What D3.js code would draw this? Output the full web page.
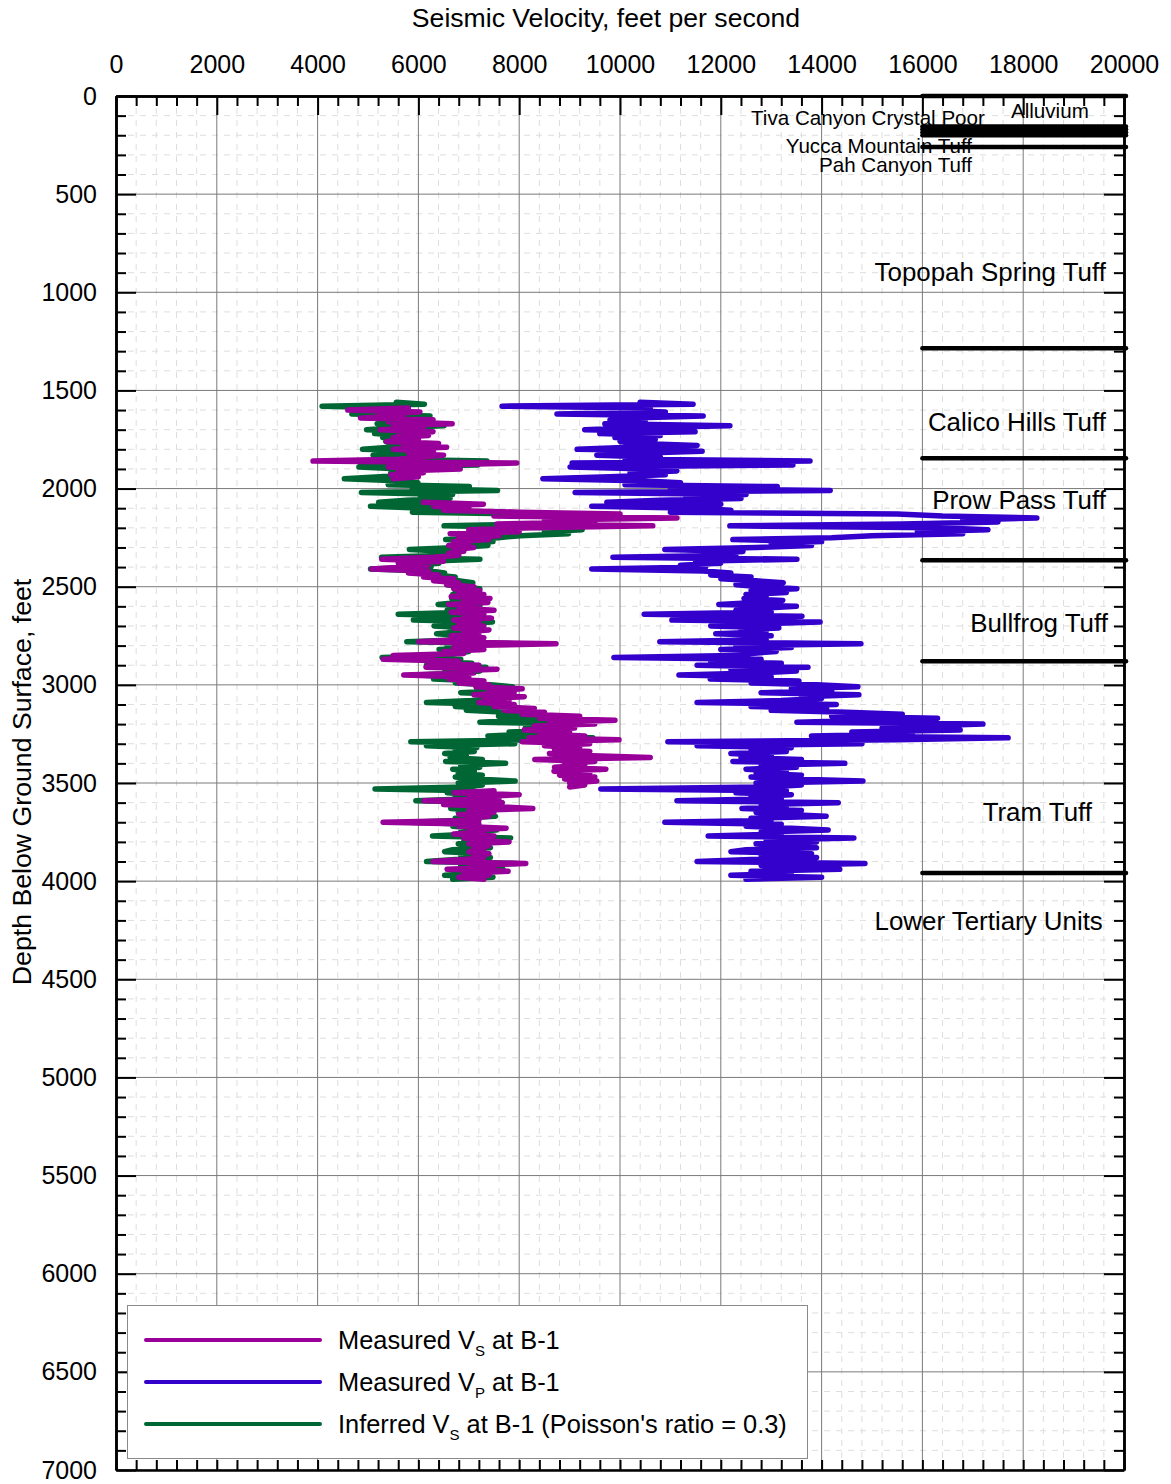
<!DOCTYPE html>
<html><head><meta charset="utf-8">
<script src="https://cdn.jsdelivr.net/npm/d3@7"></script>
<style>
body{margin:0;background:#fff}
svg{display:block}
text{font-family:"Liberation Sans",Arial,Helvetica,sans-serif;fill:#000}
</style>
</head><body>
<svg id="chart" width="1171" height="1484"></svg>
<script>
// ---------- DATA ----------
const depthFt = [
1560,1570,1580,1590,1600,1610,1620,1630,1640,1650,
1660,1670,1680,1690,1700,1710,1720,1730,1740,1750,
1760,1770,1780,1790,1800,1810,1820,1830,1840,1850,
1860,1870,1880,1890,1900,1910,1920,1930,1940,1950,
1960,1970,1980,1990,2000,2010,2020,2030,2040,2050,
2060,2070,2080,2090,2100,2110,2120,2130,2140,2150,
2160,2170,2180,2190,2200,2210,2220,2230,2240,2250,
2260,2270,2280,2290,2300,2310,2320,2330,2340,2350,
2360,2370,2380,2390,2400,2410,2420,2430,2440,2450,
2460,2470,2480,2490,2500,2510,2520,2530,2540,2550,
2560,2570,2580,2590,2600,2610,2620,2630,2640,2650,
2660,2670,2680,2690,2700,2710,2720,2730,2740,2750,
2760,2770,2780,2790,2800,2810,2820,2830,2840,2850,
2860,2870,2880,2890,2900,2910,2920,2930,2940,2950,
2960,2970,2980,2990,3000,3010,3020,3030,3040,3050,
3060,3070,3080,3090,3100,3110,3120,3130,3140,3150,
3160,3170,3180,3190,3200,3210,3220,3230,3240,3250,
3260,3270,3280,3290,3300,3310,3320,3330,3340,3350,
3360,3370,3380,3390,3400,3410,3420,3430,3440,3450,
3460,3470,3480,3490,3500,3510,3520,3530,3540,3550,
3560,3570,3580,3590,3600,3610,3620,3630,3640,3650,
3660,3670,3680,3690,3700,3710,3720,3730,3740,3750,
3760,3770,3780,3790,3800,3810,3820,3830,3840,3850,
3860,3870,3880,3890,3900,3910,3920,3930,3940,3950,
3960,3970,3980,3990];

const measuredVp = [
10400,11450,7660,10600,9900,10900,8750,11650,10200,9800,
10500,9700,12180,10300,9300,11490,9600,10800,9900,10700,
10000,10400,11530,10200,9150,11630,10300,9540,10800,10100,
13770,9050,13430,9010,10600,11130,10200,10900,9800,8470,
10400,11200,10100,13120,11000,14170,9110,12500,11300,12400,
10800,9740,12000,9440,11500,12200,11000,15500,16400,18270,
16800,17500,15600,12180,16300,17300,15900,16800,15000,14200,
12240,14000,13000,13800,12700,10890,12440,11800,12300,9860,
13510,11500,12000,11200,11700,9440,11650,12200,11800,12600,
12000,12700,13240,12300,12800,13510,12600,13300,12500,12900,
12460,13230,12700,11960,13500,12800,12300,13000,10480,13610,
12400,11030,13970,12600,11800,13150,12400,12900,11900,13000,
12500,12900,10790,14780,12300,13400,12000,13100,12600,12300,
9880,12800,11800,13200,11530,13730,12200,13500,12700,11170,
13000,11790,13550,12600,13900,14720,13400,14200,12800,14740,
13600,14000,13200,11530,14290,12600,14100,13000,14500,15600,
14200,16300,15000,13510,17200,16000,15200,16750,14600,15800,
13800,17700,15500,10950,14800,11530,13400,12600,13300,12200,
13000,12400,13600,12240,14460,12800,13500,12500,13300,12700,
13600,12600,13400,14820,12700,13600,12900,9620,13300,12300,
13400,12600,13200,11130,14330,12800,13300,12420,13600,12700,
13300,14090,12600,13000,10890,13200,12500,13400,14130,12800,
13200,11750,14640,12900,13900,12700,13300,13900,12500,12200,
13800,12800,13900,12600,11530,14860,12800,13300,14360,12600,
13400,12200,14000,12500];

const measuredVs = [
null,null,null,5800,4600,6030,5200,5700,4850,6290,
5400,6670,5500,6100,5240,6290,5600,6200,5500,6000,
5370,6400,5700,6560,5500,6300,5800,6500,6000,5600,
3910,7950,6300,5400,6830,5600,6100,5450,6000,5500,
null,null,null,null,null,null,null,null,null,null,
null,6100,7290,6300,7000,6500,8000,10000,7500,11130,
8500,9500,7560,10650,8270,7000,8000,6630,7600,6800,
7400,6700,7000,6600,7100,6700,6900,6600,6800,6300,
5270,6500,5600,6200,5700,5070,6200,5800,6400,6100,
6700,6300,6800,6560,7100,6700,7220,6800,7300,6650,
7420,6900,7380,6600,7200,6800,7500,6650,7300,6900,
7450,6700,7200,6800,7300,6700,7400,6900,7200,6650,
7300,6800,6010,8730,7000,6700,7300,6500,6900,5500,
6300,5300,6800,6200,7200,6150,7560,6600,7100,5710,
7000,6600,7300,6800,7400,7140,8060,7400,7900,7100,
8100,7300,7800,7200,7900,7500,8300,7700,8500,8060,
9200,8400,9900,8600,9500,8300,9100,8100,9000,8400,
9300,8200,9980,8060,9400,8500,9200,8700,9400,8600,
9300,10600,8310,9500,8900,9300,8700,9720,8690,9400,
8800,9500,8900,9540,9000,9300,9000,null,7500,6710,
8000,7000,7600,6110,7660,6500,7500,8270,7000,7500,
6800,7400,7000,7200,5300,7200,6800,7740,7000,7300,
6700,7500,6900,7200,7800,7000,7400,7100,7300,7000,
7400,7100,7300,6900,6290,8130,7000,7500,6570,7780,
6900,7400,6800,7300];

const inferredVs = [
5560,6120,4090,5670,5290,5830,4680,6230,5450,5240,
5610,5180,6510,5510,4970,6140,5130,5770,5290,5720,
5350,5560,6160,5450,4890,6220,5510,5100,5770,5400,
7360,4840,7180,4820,5670,5950,5450,5830,5240,4530,
5560,5990,5400,7010,5880,7570,4870,6680,6040,6630,
5770,5210,6410,5050,6150,6520,5880,8280,8770,9770,
8980,9350,8340,6510,8710,9250,8500,8980,8020,7590,
6540,7480,6950,7380,6790,5820,6650,6310,6570,5270,
7220,6150,6410,5990,6250,5050,6230,6520,6310,6730,
6410,6790,7080,6570,6840,7220,6730,7110,6680,6900,
6660,7070,6790,6390,7220,6840,6570,6950,5600,7270,
6630,5900,7470,6730,6310,7030,6630,6900,6360,6950,
6680,6900,5770,7900,6570,7160,6410,7000,6730,6570,
5280,6840,6310,7060,6160,7340,6520,7220,6790,5970,
6950,6300,7240,6730,7430,7870,7160,7590,6840,7880,
7270,7480,7060,6160,7640,6730,7540,6950,7750,8340,
7590,8710,8020,7220,9190,8550,8120,8950,7800,8450,
7380,9460,8280,5850,7910,6160,7160,6730,7110,6520,
6950,6630,7270,6540,7730,6840,7220,6680,7110,6790,
7270,6730,7160,7920,6790,7270,6900,5140,7110,6570,
7160,6730,7060,5950,7660,6840,7110,6640,7270,6790,
7110,7530,6730,6950,5820,7060,6680,7160,7550,6840,
7060,6280,7830,6900,7430,6790,7110,7430,6680,6520,
7380,6840,7430,6730,6160,7940,6840,7110,7680,6730,
7160,6520,7480,6680];

const xTickValues = [0,2000,4000,6000,8000,10000,12000,14000,16000,18000,20000];
const yTickValues = [0,500,1000,1500,2000,2500,3000,3500,4000,4500,5000,5500,6000,6500,7000];
const formationBoundaries = [0,155,170,185,200,260,1285,1845,2365,2880,3958];
const formationNames = ["Alluvium","Tiva Canyon Crystal Poor","Yucca Mountain Tuff","Pah Canyon Tuff",
  "Topopah Spring Tuff","Calico Hills Tuff","Prow Pass Tuff","Bullfrog Tuff","Tram Tuff","Lower Tertiary Units"];
const formationLabelDepths = [76,112,255,352,897,1661,2058,2685,3648,4203];
const seriesNames = [
  ["Measured V","S"," at B-1"],
  ["Measured V","P"," at B-1"],
  ["Inferred V","S"," at B-1 (Poisson's ratio = 0.3)"]
];
const seriesColors = ["#990099","#3300cc","#006633"];

// ---------- LAYOUT ----------
const svg = d3.select("#chart");
const L = 116, R = 1124, T = 96, B = 1470;
const x = d3.scaleLinear().domain([0,20000]).range([L,R]);
const y = d3.scaleLinear().domain([0,7000]).range([T,B]);

const xMinor = d3.range(0,20001,400).filter(v => v % 2000 !== 0);
const yMinor = d3.range(0,7001,100).filter(v => v % 500 !== 0);

// minor grid
const g = svg.append("g");
g.selectAll(".mgx").data(xMinor).join("line")
  .attr("x1",d=>x(d)).attr("x2",d=>x(d)).attr("y1",T).attr("y2",B)
  .attr("stroke","#dedede").attr("stroke-width",1).attr("stroke-dasharray","6,6");
g.selectAll(".mgy").data(yMinor).join("line")
  .attr("y1",d=>y(d)).attr("y2",d=>y(d)).attr("x1",L).attr("x2",R)
  .attr("stroke","#dedede").attr("stroke-width",1).attr("stroke-dasharray","6,6");
// major grid
g.selectAll(".Mgx").data(xTickValues).join("line")
  .attr("x1",d=>x(d)).attr("x2",d=>x(d)).attr("y1",T).attr("y2",B)
  .attr("stroke","#7a7a7a").attr("stroke-width",1);
g.selectAll(".Mgy").data(yTickValues).join("line")
  .attr("y1",d=>y(d)).attr("y2",d=>y(d)).attr("x1",L).attr("x2",R)
  .attr("stroke","#7a7a7a").attr("stroke-width",1);

// data lines
const rows = (vals) => depthFt.map((d,i)=>[vals[i], d]);
const line = d3.line().defined(p => p[0] != null).x(p => x(p[0])).y(p => y(p[1]));
const dataG = svg.append("g").attr("fill","none").attr("stroke-width",5.5)
  .attr("stroke-linejoin","round").attr("stroke-linecap","round");
dataG.append("path").attr("d", line(rows(inferredVs))).attr("stroke", seriesColors[2]);
dataG.append("path").attr("d", line(rows(measuredVs))).attr("stroke", seriesColors[0]);
dataG.append("path").attr("d", line(rows(measuredVp))).attr("stroke", seriesColors[1]);

// axes
function styleAxis(sel){
  sel.select(".domain").attr("stroke","#000").attr("stroke-width",2.5);
  sel.selectAll(".tick line").attr("stroke","#000").attr("stroke-width",2);
  sel.selectAll(".tick text").attr("font-size",25).attr("font-family",'"Liberation Sans",Arial,sans-serif').attr("fill","#000");
}
svg.append("g").attr("transform",`translate(0,${T})`)
  .call(d3.axisTop(x).tickValues(xMinor).tickSizeInner(-10).tickSizeOuter(0).tickFormat(""))
  .call(styleAxis);
svg.append("g").attr("transform",`translate(0,${T})`)
  .call(d3.axisTop(x).tickValues(xTickValues).tickSizeInner(-19).tickSizeOuter(0).tickPadding(23).tickFormat(d3.format("d")))
  .call(styleAxis);
svg.append("g").attr("transform",`translate(0,${B})`)
  .call(d3.axisBottom(x).tickValues(xMinor.concat(xTickValues)).tickSizeInner(-10).tickSizeOuter(0).tickFormat(""))
  .call(styleAxis);
svg.append("g").attr("transform",`translate(${L},0)`)
  .call(d3.axisLeft(y).tickValues(yMinor).tickSizeInner(-10).tickSizeOuter(0).tickFormat(""))
  .call(styleAxis);
svg.append("g").attr("transform",`translate(${L},0)`)
  .call(d3.axisLeft(y).tickValues(yTickValues).tickSizeInner(-20).tickSizeOuter(0).tickPadding(19).tickFormat(d3.format("d")))
  .call(styleAxis);
svg.append("g").attr("transform",`translate(${R},0)`)
  .call(d3.axisRight(y).tickValues(yMinor).tickSizeInner(-10).tickSizeOuter(0).tickFormat(""))
  .call(styleAxis);
svg.append("g").attr("transform",`translate(${R},0)`)
  .call(d3.axisRight(y).tickValues(yTickValues).tickSizeInner(-20).tickSizeOuter(0).tickFormat(""))
  .call(styleAxis);

// titles
svg.append("text").attr("x",606).attr("y",27).attr("text-anchor","middle").attr("font-size",26.6)
  .text("Seismic Velocity, feet per second");
svg.append("text").attr("transform","translate(31,782) rotate(-90)").attr("text-anchor","middle").attr("font-size",26.7)
  .text("Depth Below Ground Surface, feet");

// formation boundaries
svg.append("g").selectAll("line").data(formationBoundaries).join("line")
  .attr("x1",x(16000)).attr("x2",x(20000)+2).attr("y1",d=>y(d)).attr("y2",d=>y(d))
  .attr("stroke","#000").attr("stroke-width",4.5).attr("stroke-linecap","round");

// formation labels
const labelPos = [
  {xv:18530, anchor:"middle", size:20.6},
  {xv:17240, anchor:"end", size:20.6},
  {xv:16985, anchor:"end", size:20.6},
  {xv:16985, anchor:"end", size:20.6},
  {xv:19640, anchor:"end", size:25.9},
  {xv:19640, anchor:"end", size:25.9},
  {xv:19640, anchor:"end", size:25.9},
  {xv:19680, anchor:"end", size:25.9},
  {xv:19365, anchor:"end", size:25.9},
  {xv:19580, anchor:"end", size:25.9}
];
svg.append("g").selectAll("text").data(formationNames).join("text")
  .attr("x",(d,i)=>x(labelPos[i].xv)).attr("y",(d,i)=>y(formationLabelDepths[i]))
  .attr("dy","0.35em").attr("text-anchor",(d,i)=>labelPos[i].anchor)
  .attr("font-size",(d,i)=>labelPos[i].size).text(d=>d);

// legend
const lg = svg.append("g");
lg.append("rect").attr("x",127.5).attr("y",1305.5).attr("width",680).attr("height",153)
  .attr("fill","#fff").attr("stroke","#8a8a8a").attr("stroke-width",1);
const legendRows = [0,1,2];
legendRows.forEach((k,i)=>{
  const ly = 1340 + i*42;
  lg.append("line").attr("x1",146).attr("x2",320).attr("y1",ly).attr("y2",ly)
    .attr("stroke",seriesColors[k]).attr("stroke-width",4).attr("stroke-linecap","round");
  const t = lg.append("text").attr("x",338).attr("y",ly+9).attr("font-size",25.4);
  t.append("tspan").text(seriesNames[k][0]);
  t.append("tspan").attr("font-size",15).attr("dy",7).text(seriesNames[k][1]);
  t.append("tspan").attr("dy",-7).text(seriesNames[k][2]);
});
</script>
</body></html>
